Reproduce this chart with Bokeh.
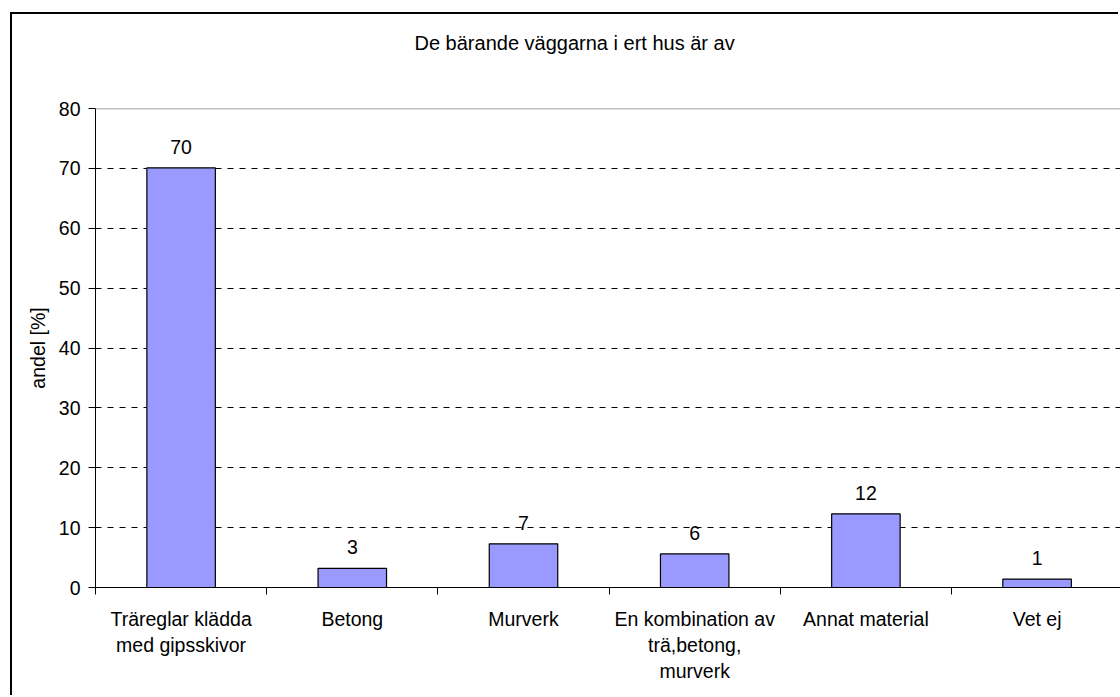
from bokeh.plotting import figure
from bokeh.models import (ColumnDataSource, FixedTicker, LinearAxis, Span, Title)
from bokeh.core.properties import value
from bokeh.embed import file_html
from bokeh.resources import INLINE

# ---- data ----
categories = ["Träreglar klädda\nmed gipsskivor", "Betong", "Murverk",
              "En kombination av\nträ,betong,\nmurverk", "Annat material", "Vet ej"]
values = [70.1, 3.2, 7.3, 5.6, 12.3, 1.4]
value_labels = ["70", "3", "7", "6", "12", "1"]
y_ticks = [0, 10, 20, 30, 40, 50, 60, 70, 80]
title_text = "De bärande väggarna i ert hus är av"
y_label = "andel [%]"

FONT = "Liberation Sans"
FS = "19.5px"

positions = [i + 0.5 for i in range(len(categories))]
boundaries = [i for i in range(len(categories))]

# frame spans x=95..1120 px, one category = 171.2 px
x_end = (1120 - 95) / 171.2

p = figure(width=1108, height=683, output_backend="svg", toolbar_location=None,
           x_range=(0, x_end), y_range=(0, 80),
           min_border_left=83, min_border_right=0, min_border_top=94,
           min_border_bottom=110, margin=(14, 0, 0, 12))
p.styles = {"box-shadow": "-2px -2px 0 0 #000"}
p.background_fill_color = "white"
p.border_fill_color = "white"
p.outline_line_color = None

src = ColumnDataSource(dict(x=positions, top=values, lab=value_labels))
p.vbar(x="x", top="top", width=0.40, bottom=0, source=src,
       fill_color="#9999FF", line_color="black", line_width=1.2)
p.text(x="x", y="top", text="lab", source=src, text_align="center",
       text_baseline="alphabetic", y_offset=-21,
       text_font=value(FONT), text_font_size=FS, text_color="black")

# grid
p.xgrid.visible = False
p.ygrid.ticker = FixedTicker(ticks=y_ticks[1:-1])
p.ygrid.grid_line_color = "black"
p.ygrid.grid_line_dash = "6 6"
p.ygrid.grid_line_width = 1
p.add_layout(Span(location=y_ticks[-1], dimension="width",
                  line_color="#808080", line_width=1.5))

# y axis
ya = p.yaxis[0]
ya.ticker = FixedTicker(ticks=y_ticks)
ya.axis_line_color = "black"
ya.major_tick_line_color = "black"
ya.major_tick_out = 7
ya.major_tick_in = 0
ya.minor_tick_line_color = None
ya.major_label_text_font = FONT
ya.major_label_text_font_size = FS
ya.major_label_text_color = "black"
ya.major_label_standoff = 8
ya.axis_label = y_label
ya.axis_label_text_font = FONT
ya.axis_label_text_font_size = FS
ya.axis_label_text_font_style = "normal"
ya.axis_label_text_color = "black"
ya.axis_label_standoff = 7

# x axis: boundary ticks only (labels not drawn)
xa = p.xaxis[0]
xa.ticker = FixedTicker(ticks=boundaries)
xa.axis_line_color = "black"
xa.major_tick_line_color = "black"
xa.major_tick_out = 7
xa.major_tick_in = 0
xa.minor_tick_line_color = None
xa.major_label_text_color = None
xa.major_label_text_font_size = "0px"
xa.major_label_standoff = 0

# x axis: category labels
xl = LinearAxis(ticker=FixedTicker(ticks=positions),
                major_label_overrides={pos: cat for pos, cat in zip(positions, categories)})
xl.axis_line_color = None
xl.major_tick_line_color = None
xl.minor_tick_line_color = None
xl.major_label_text_font = FONT
xl.major_label_text_font_size = FS
xl.major_label_text_color = "black"
xl.major_label_text_line_height = 1.2
xl.major_label_standoff = 7
p.add_layout(xl, "below")

# title: bottom padding lifts the text away from the plot frame
t = Title(text=title_text, align="left", offset=319, standoff=10,
          vertical_align="top",
          text_font=FONT, text_font_size="20px", text_font_style="normal",
          text_color="black")
try:
    t.padding = dict(left=0, right=0, top=0, bottom=50)
    t.vertical_align = "bottom"
except Exception:
    pass
p.add_layout(t, "above")

open("out.html", "w").write(file_html(p, INLINE))
